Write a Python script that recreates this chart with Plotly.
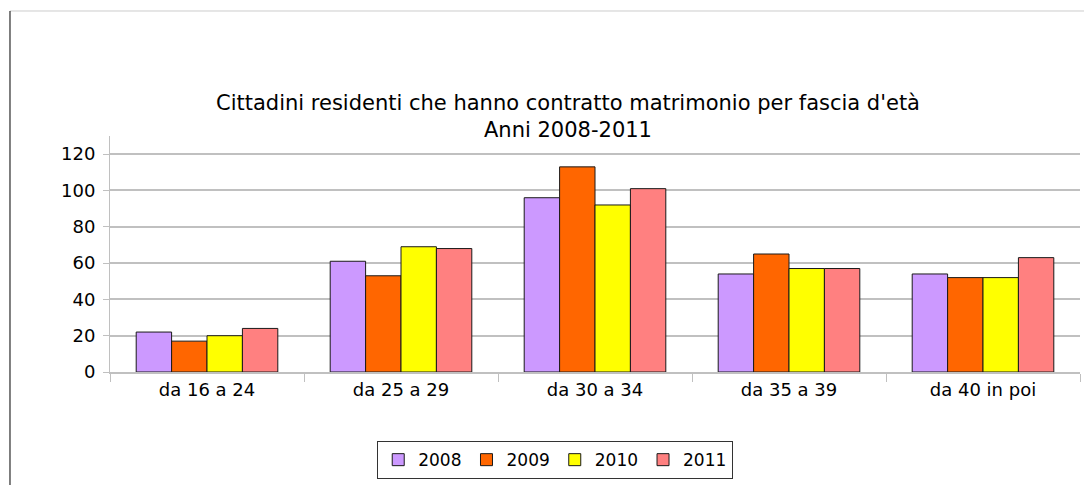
import plotly.graph_objects as go

categories = ["da 16 a 24", "da 25 a 29", "da 30 a 34", "da 35 a 39", "da 40 in poi"]
years = ["2008", "2009", "2010", "2011"]
values_2008 = [22, 61, 96, 54, 54]
values_2009 = [17, 53, 113, 65, 52]
values_2010 = [20, 69, 92, 57, 52]
values_2011 = [24, 68, 101, 57, 63]
colors = ["#cc99ff", "#ff6600", "#ffff00", "#ff8080"]

series = [values_2008, values_2009, values_2010, values_2011]

fig = go.Figure()
for year, vals, col in zip(years, series, colors):
    fig.add_trace(go.Bar(
        x=categories, y=vals, name=year,
        marker=dict(color=col, line=dict(color="#1a1a1a", width=1)),
    ))

font = "DejaVu Sans, Verdana, sans-serif"

# the page body has an 8px margin, so the figure is 8px smaller and margins shifted
fig.update_layout(
    width=1084, height=477,
    margin=dict(l=102, r=12, t=128, b=113, autoexpand=False),
    paper_bgcolor="white", plot_bgcolor="white",
    barmode="group", bargap=0.27, bargroupgap=0,
    font=dict(family=font, size=18, color="black"),
    title=dict(
        text="Cittadini residenti che hanno contratto matrimonio per fascia d'età<br>Anni 2008-2011",
        x=0.5166, xanchor="center", y=0.786, yanchor="middle",
        font=dict(family=font, size=21, color="black"),
    ),
    showlegend=True,
    legend=dict(
        orientation="h", x=0.459, xanchor="center",
        yref="container", y=0.092, yanchor="top",
        bordercolor="#333333", borderwidth=1, font=dict(size=17),
        itemwidth=30, traceorder="normal",
    ),
    shapes=[
        dict(type="line", xref="paper", yref="paper", x0=-0.1031, x1=1.02,
             y0=1.5297, y1=1.5297, line=dict(color="#cccccc", width=1)),
        dict(type="line", xref="paper", yref="paper", x0=-0.1031, x1=-0.1031,
             y0=1.5297, y1=-0.48, line=dict(color="black", width=1)),
    ],
)

fig.update_yaxes(
    range=[0, 130], tickvals=[0, 20, 40, 60, 80, 100, 120],
    showgrid=True, gridcolor="#c0c0c0", gridwidth=2,
    showline=True, linecolor="#c0c0c0", linewidth=1,
    ticks="outside", ticklen=6, tickcolor="#c0c0c0",
    zeroline=False, ticklabelstandoff=4,
)
fig.update_xaxes(
    showline=True, linecolor="#c0c0c0", linewidth=2,
    ticks="outside", tickson="boundaries", ticklen=8, tickcolor="#c0c0c0",
    showgrid=False,
)

fig.write_html("out.html")
